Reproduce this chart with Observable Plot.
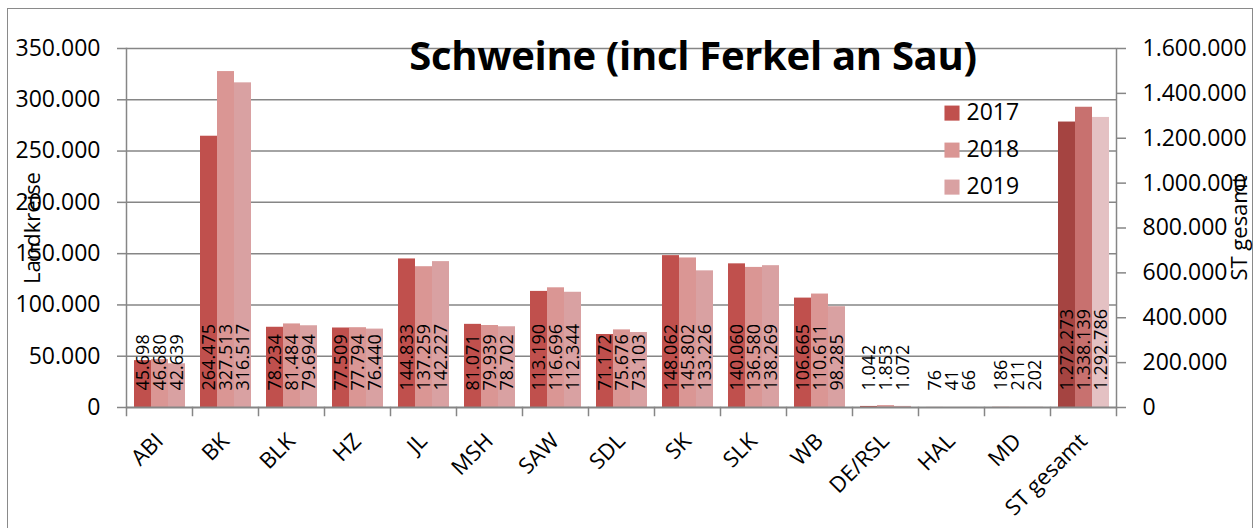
<!DOCTYPE html>
<html>
<head>
<meta charset="utf-8">
<script src="https://cdn.jsdelivr.net/npm/d3@7"></script>
<script src="https://cdn.jsdelivr.net/npm/@observablehq/plot@0.6"></script>
<style>
  body { margin: 0; background: #fff; }
  #wrap { position: relative; width: 1256px; height: 528px; overflow: hidden; font-family: "Open Sans", sans-serif; }
  #border { position: absolute; left: 7px; top: 8px; width: 1246px; height: 560px; border: 1.5px solid #8a8a8a; box-sizing: border-box; }
  #chart { position: absolute; left: 0; top: 0; }
  #title { position: absolute; left: 0; width: 1386px; top: 30px; text-align: center; font-family: "Open Sans", sans-serif; font-weight: bold; font-size: 40px; line-height: 50px; color: #000; white-space: nowrap; letter-spacing: -0.3px; }
</style>
</head>
<body>
<div id="wrap">
  <div id="border"></div>
  <div id="chart"></div>
  <div id="title">Schweine (incl Ferkel an Sau)</div>
</div>
<script>
const categories = ["ABI", "BK", "BLK", "HZ", "JL", "MSH", "SAW", "SDL", "SK", "SLK", "WB", "DE/RSL", "HAL", "MD", "ST gesamt"];
const years = ["2017", "2018", "2019"];
const values2017 = [45698, 264475, 78234, 77509, 144833, 81071, 113190, 71172, 148062, 140060, 106665, 1042, 76, 186, 1272273];
const values2018 = [46680, 327513, 81484, 77794, 137259, 79939, 116696, 75676, 145802, 136580, 110611, 1853, 41, 211, 1338139];
const values2019 = [42639, 316517, 79694, 76440, 142227, 78702, 112344, 73103, 133226, 138269, 98285, 1072, 66, 202, 1292786];
const leftTicks = [0, 50000, 100000, 150000, 200000, 250000, 300000, 350000];
const rightTicks = [0, 200000, 400000, 600000, 800000, 1000000, 1200000, 1400000, 1600000];
const totalCategory = "ST gesamt";
const legendCategory = "HAL";
const colors = ["#C0504D", "#DA9694", "#D9A1A2"];
const totalColors = ["#A54441", "#C8716F", "#E4C1C3"];
const titleLeft = "Landkreise";
const titleRight = "ST gesamt";

const leftMax = leftTicks[leftTicks.length - 1];
const rightMax = rightTicks[rightTicks.length - 1];
const k = leftMax / rightMax;

const fmt = d3.formatLocale({decimal: ",", thousands: ".", grouping: [3], currency: ["", "€"]}).format(",d");

const series = [values2017, values2018, values2019];
const data = [];
categories.forEach((c, ci) => {
  years.forEach((yr, yi) => {
    const isTotal = c === totalCategory;
    const value = series[yi][ci];
    data.push({cat: c, year: yr, value, v: isTotal ? value * k : value, color: isTotal ? totalColors[yi] : colors[yi]});
  });
});

const gray = "#868686";
const plotTop = 48, plotBottom = 407;

const legendMarks = years.flatMap((yr, i) => [
  Plot.dot([{cat: legendCategory, yr, c: colors[i]}], {fx: "cat", frameAnchor: "top-left", dx: 33.5, dy: 64.6 + 37 * i, symbol: "square", r: 8.5, fill: "c", stroke: null}),
  Plot.text([{cat: legendCategory, yr}], {fx: "cat", frameAnchor: "top-left", dx: 48, dy: 64.6 + 37 * i, text: "yr", textAnchor: "start", lineAnchor: "middle", fontSize: 23, fill: "#000"})
]);

const chart = Plot.plot({
  width: 1256,
  height: 528,
  marginLeft: 124,
  marginRight: 139,
  marginTop: plotTop,
  marginBottom: 528 - plotBottom,
  style: {fontFamily: "'Open Sans', sans-serif", background: "transparent", overflow: "visible"},
  fx: {domain: categories, padding: 0, label: null},
  x: {domain: years, paddingInner: 0, paddingOuter: 0.34, axis: null},
  y: {domain: [0, leftMax], axis: null},
  color: {type: "identity"},
  marks: [
    Plot.ruleY(leftTicks.slice(1), {stroke: gray, strokeWidth: 1.5}),
    Plot.axisY(leftTicks, {anchor: "left", tickFormat: fmt, tickSize: 9, tickPadding: 17, fontSize: 23, stroke: gray, strokeWidth: 1.5, color: "#000", label: null}),
    Plot.axisY(rightTicks.map(d => d * k), {anchor: "right", tickFormat: d => fmt(Math.round(d / k)), tickSize: 9, tickPadding: 17, fontSize: 23, stroke: gray, strokeWidth: 1.5, color: "#000", label: null}),
    Plot.frame({anchor: "left", facetAnchor: "left", stroke: gray, strokeWidth: 1.5}),
    Plot.frame({anchor: "right", facetAnchor: "right", stroke: gray, strokeWidth: 1.5}),
    Plot.frame({anchor: "left", stroke: gray, strokeWidth: 1.5, insetTop: plotBottom - plotTop, insetBottom: -8}),
    Plot.frame({anchor: "right", facetAnchor: "right", stroke: gray, strokeWidth: 1.5, insetTop: plotBottom - plotTop, insetBottom: -8}),
    Plot.barY(data, {fx: "cat", x: "year", y: "v", fill: "color"}),
    Plot.ruleY([0], {stroke: gray, strokeWidth: 2}),
    Plot.text(data, {fx: "cat", x: "year", y: () => 0, text: d => fmt(d.value), rotate: -90, textAnchor: "start", dy: -17, fontSize: 18, fill: "#000"}),
    Plot.axisFx({anchor: "bottom", tickRotate: -45, tickSize: 0, tickPadding: 30, fontSize: 22, label: null, color: "#000"}),
    Plot.text([titleLeft], {frameAnchor: "left", facetAnchor: "left", rotate: -90, textAnchor: "middle", dx: -94, fontSize: 22, fill: "#000"}),
    Plot.text([titleRight], {frameAnchor: "right", facetAnchor: "right", rotate: -90, textAnchor: "middle", dx: 123, fontSize: 22, fill: "#000"}),
    ...legendMarks
  ]
});
document.getElementById("chart").appendChild(chart);
</script>
</body>
</html>
